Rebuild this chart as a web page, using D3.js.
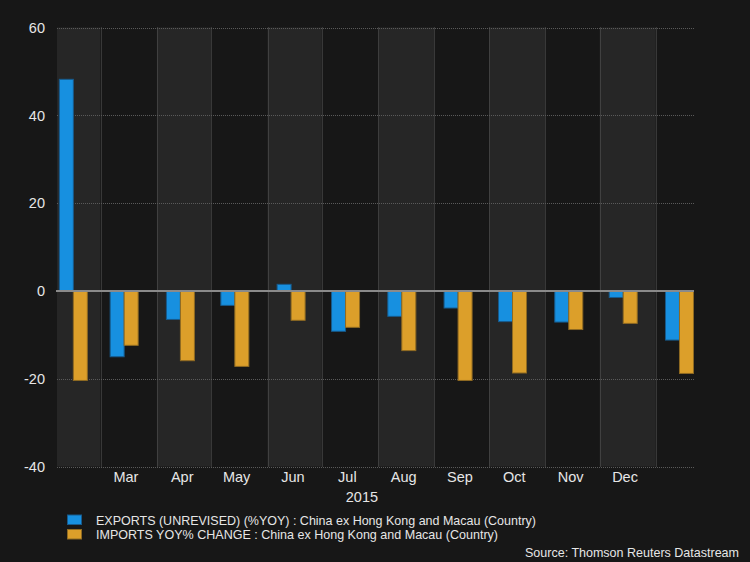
<!DOCTYPE html>
<html><head><meta charset="utf-8">
<script src="https://cdn.jsdelivr.net/npm/d3@7"></script>
<style>
html,body{margin:0;padding:0;background:#171717;}
svg{display:block;}
text{font-family:"Liberation Sans Narrow","Arial Narrow","Liberation Sans",Arial,sans-serif;fill:#e6e6e6;}
</style></head>
<body>
<svg id="c" width="750" height="562"></svg>
<script>
// Data
const months = ["2015-02","2015-03","2015-04","2015-05","2015-06","2015-07","2015-08","2015-09","2015-10","2015-11","2015-12","2016-01"];
const exportsYoY = [48.2, -15.0, -6.5, -3.3, 1.5, -9.2, -5.8, -3.9, -7.0, -7.1, -1.5, -11.2];
const importsYoY = [-20.4, -12.4, -15.9, -17.2, -6.7, -8.3, -13.6, -20.4, -18.7, -8.8, -7.4, -18.8];
const yTicks = [-40, -20, 0, 20, 40, 60];
const monthLabels = ["Mar","Apr","May","Jun","Jul","Aug","Sep","Oct","Nov","Dec"];
const yearLabel = "2015";
const seriesNames = ["EXPORTS (UNREVISED) (%YOY) : China ex Hong Kong and Macau (Country)",
                     "IMPORTS YOY% CHANGE : China ex Hong Kong and Macau (Country)"];
const sourceText = "Source: Thomson Reuters Datastream";

const colors = {blue:"#1790e0", blueEdge:"#175a8c", yellow:"#dc9f2a", yellowEdge:"#8f6a22"};

const svg = d3.select("#c");
const W = 750, H = 562;
svg.append("rect").attr("width",W).attr("height",H).attr("fill","#171717");

const parse = d3.timeParse("%Y-%m");
const dates = months.map(parse);

const x = d3.scaleTime()
  .domain([new Date(2015,1,5), new Date(2016,0,22)])
  .range([57, 694]);
const y = d3.scaleLinear().domain([-40, 60]).range([466.5, 27.5]);

const x0 = x.range()[0], x1 = x.range()[1];
const yTop = y(60), yBot = y(-40);

// month bands
const bandStarts = d3.timeMonths(new Date(2015,1,1), new Date(2016,1,1));
svg.append("g").selectAll("rect").data(bandStarts).join("rect")
  .attr("x", d => Math.max(x0, x(d)))
  .attr("width", d => Math.min(x1, x(d3.timeMonth.offset(d,1))) - Math.max(x0, x(d)))
  .attr("y", yTop).attr("height", yBot - yTop)
  .attr("fill", (d,i) => i % 2 === 0 ? "#262626" : "#171717");

// horizontal grid
svg.append("g").selectAll("line").data(yTicks.filter(t => t !== 0)).join("line")
  .attr("x1", x0).attr("x2", x1)
  .attr("y1", d => Math.round(y(d)) + 0.5).attr("y2", d => Math.round(y(d)) + 0.5)
  .attr("stroke", "#5a5a5a").attr("stroke-width", 1).attr("stroke-dasharray", "1,1");

// vertical grid at month boundaries
const vLines = bandStarts.filter(d => x(d) > x0 + 1 && x(d) < x1 - 1);
svg.append("g").selectAll("line").data(vLines).join("line")
  .attr("x1", d => Math.round(x(d)) + 0.5).attr("x2", d => Math.round(x(d)) + 0.5)
  .attr("y1", yTop).attr("y2", yBot)
  .attr("stroke", "#5a5a5a").attr("stroke-width", 1).attr("stroke-dasharray", "1,1");

// bars
const barW = 14;
const centers = dates.map(d => x(d3.timeDay.offset(d, 13)));
function bars(vals, offset, fill, edge) {
  svg.append("g").selectAll("rect").data(vals).join("rect")
    .attr("x", (v,i) => centers[i] + offset)
    .attr("width", barW)
    .attr("y", v => y(Math.max(0, v)))
    .attr("height", v => Math.abs(y(v) - y(0)))
    .attr("fill", fill)
    .attr("stroke", edge).attr("stroke-width", 1);
}
bars(exportsYoY, -barW, colors.blue, colors.blueEdge);
bars(importsYoY, 0, colors.yellow, colors.yellowEdge);

// zero line
svg.append("line").attr("x1", x0 - 1).attr("x2", x1)
  .attr("y1", y(0)).attr("y2", y(0))
  .attr("stroke", "#8a8a8a").attr("stroke-width", 2);

// y labels
svg.append("g").selectAll("text").data(yTicks).join("text")
  .attr("x", 45).attr("y", d => y(d))
  .attr("dy", "0.36em")
  .attr("text-anchor", "end").style("font-size", "14.5px")
  .text(d => d);

// month labels
const labelDates = d3.timeMonths(new Date(2015,2,1), new Date(2016,0,1));
svg.append("g").selectAll("text").data(labelDates).join("text")
  .attr("x", d => x(d3.timeDay.offset(d, 14)))
  .attr("y", 482)
  .attr("text-anchor", "middle").style("font-size", "14.5px")
  .text((d,i) => monthLabels[i]);

svg.append("text").attr("x", x(new Date(2015,6,23))).attr("y", 502)
  .attr("text-anchor","middle").style("font-size","14.5px").text(yearLabel);

// legend
const legColors = [[colors.blue, colors.blueEdge],[colors.yellow, colors.yellowEdge]];
const legWidths = [440, 402];
seriesNames.forEach((name, i) => {
  const yy = 515 + i * 14.5;
  svg.append("rect").attr("x", 67.5).attr("y", yy).attr("width", 14).attr("height", 9.5)
    .attr("fill", legColors[i][0]).attr("stroke", legColors[i][1]);
  svg.append("text").attr("x", 96).attr("y", yy + 9.5)
    .style("font-size","13.5px")
    .attr("textLength", legWidths[i]).attr("lengthAdjust","spacingAndGlyphs")
    .text(name);
});

svg.append("text").attr("x", 739).attr("y", 557)
  .attr("text-anchor","end").style("font-size","13px")
  .attr("textLength", 214).attr("lengthAdjust","spacingAndGlyphs")
  .text(sourceText);
</script>
</body></html>
